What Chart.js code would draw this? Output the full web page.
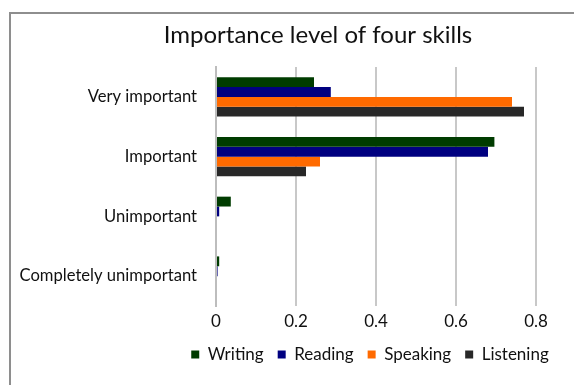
<!DOCTYPE html>
<html>
<head>
<meta charset="utf-8">
<script src="https://cdn.jsdelivr.net/npm/chart.js@4/dist/chart.umd.min.js"></script>
<style>
  html, body { margin: 0; padding: 0; background: #fff; overflow: hidden; }
  #wrap { position: relative; width: 574px; height: 385px; overflow: hidden; }
  #frame { position: absolute; left: 9px; top: 12px; width: 620px; height: 420px;
           border: 2px solid #8e8e8e; box-sizing: border-box; }
  canvas { position: absolute; left: 0; top: 0; }
</style>
</head>
<body>
<div id="wrap">
  <div id="frame"></div>
  <canvas id="chart" width="574" height="385"></canvas>
</div>
<script>
// Survey answers: share of respondents per importance level, for each skill
const categories = ['Very important', 'Important', 'Unimportant', 'Completely unimportant'];
const writing   = [0.245, 0.696, 0.037, 0.008];
const reading   = [0.287, 0.680, 0.008, 0.004];
const speaking  = [0.740, 0.260, 0, 0];
const listening = [0.770, 0.225, 0, 0];
const xTicks = [0, 0.2, 0.4, 0.6, 0.8];
const titleText = 'Importance level of four skills';

const FONT = 'Lato, "Open Sans", sans-serif';

// Draws the chart heading above the plot
const headingPlugin = {
  id: 'heading',
  afterDraw(chart) {
    const ctx = chart.ctx;
    ctx.save();
    ctx.font = '24px ' + FONT;
    ctx.fillStyle = '#111';
    ctx.textAlign = 'center';
    ctx.textBaseline = 'middle';
    ctx.fillText(titleText, 318, 35);
    ctx.restore();
  }
};

// Centres the legend row under the plot area and lifts it a little
const legendShift = {
  id: 'legendShift',
  afterLayout(chart) {
    const lg = chart.legend;
    if (!lg) return;
    const area = chart.chartArea;
    const dx = (area.left + area.right) / 2 - (lg.left + lg.right) / 2 - 6;
    lg.left += dx;
    lg.right += dx;
    lg.top -= 4;
    lg.bottom -= 4;
  }
};

new Chart(document.getElementById('chart'), {
  type: 'bar',
  data: {
    labels: categories,
    datasets: [
      { label: 'Writing',   data: writing,   backgroundColor: '#003c00' },
      { label: 'Reading',   data: reading,   backgroundColor: '#000080' },
      { label: 'Speaking',  data: speaking,  backgroundColor: '#ff6a00' },
      { label: 'Listening', data: listening, backgroundColor: '#282828' }
    ]
  },
  options: {
    indexAxis: 'y',
    responsive: false,
    animation: false,
    devicePixelRatio: 1,
    layout: { padding: { top: 67, right: 38, bottom: 8, left: 0 } },
    datasets: { bar: { categoryPercentage: 0.66, barPercentage: 1, borderWidth: 0 } },
    scales: {
      x: {
        min: 0, max: 0.8,
        afterBuildTicks(scale) { scale.ticks = xTicks.map(v => ({ value: v })); },
        afterFit(scale) { scale.height = 30; },
        grid: { color: '#c8c8c8', lineWidth: 2, drawTicks: false },
        border: { display: false },
        ticks: {
          padding: 5,
          color: '#111',
          font: { family: FONT, size: 17 },
          callback: v => String(v)
        }
      },
      y: {
        afterFit(scale) { scale.width = 216; },
        grid: { display: false },
        border: { display: true, color: '#bdbdbd', width: 2 },
        ticks: {
          padding: 11,
          color: '#111',
          font: { family: FONT, size: 16.6 }
        }
      }
    },
    plugins: {
      legend: {
        position: 'bottom',
        labels: {
          boxWidth: 8, boxHeight: 8, padding: 14,
          color: '#111',
          font: { family: FONT, size: 17 }
        }
      },
      tooltip: { enabled: false }
    }
  },
  plugins: [headingPlugin, legendShift]
});
</script>
</body>
</html>
